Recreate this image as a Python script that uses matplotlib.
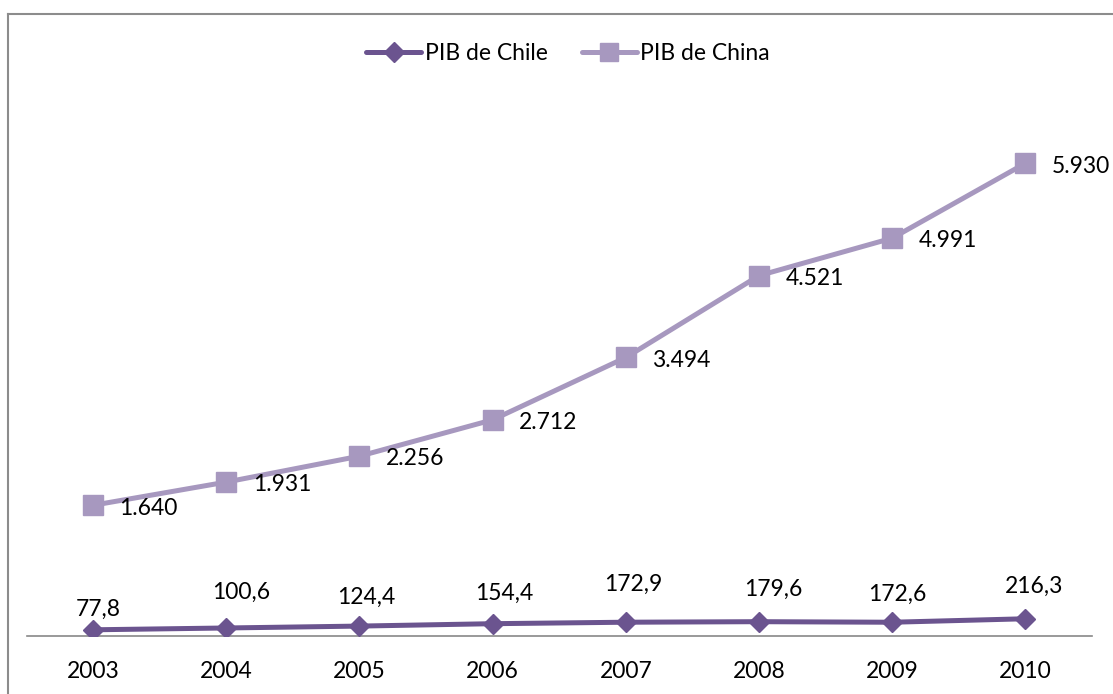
import numpy as np
import matplotlib.pyplot as plt
from matplotlib.lines import Line2D

plt.rcParams['font.family'] = ['Lato', 'DejaVu Sans']

# PIB por año (miles de millones US$)
years = ['2003', '2004', '2005', '2006', '2007', '2008', '2009', '2010']
pib_chile = [77.8, 100.6, 124.4, 154.4, 172.9, 179.6, 172.6, 216.3]
pib_china = [1640, 1931, 2256, 2712, 3494, 4521, 4991, 5930]

# etiquetas de Chile movidas a mano (puntos, respecto al marcador)
chile_off = [(4, 15), (11, 26), (5, 21), (8, 22), (5, 27), (10, 23), (4, 20), (6, 23)]

c_chile = '#6b548f'
c_china = '#a798bf'

fig = plt.figure(figsize=(11.13, 6.94), dpi=100)
W, H = 1113, 694
ax = fig.add_axes([26.5 / W, (H - 636) / H, (1092 - 26.5) / W, (636 - 78) / H])

x = np.arange(len(years))
ax.plot(x, pib_china, color=c_china, lw=3.6, marker='s', ms=15,
        solid_capstyle='round', label='PIB de China', zorder=3)
ax.plot(x, pib_chile, color=c_chile, lw=3.6, marker='D', ms=10.5,
        solid_capstyle='round', label='PIB de Chile', zorder=3)

def fmt_china(v):
    return f'{v:,.0f}'.replace(',', '.')

def fmt_chile(v):
    return f'{v:.1f}'.replace('.', ',')

for i, v in enumerate(pib_china):
    ax.annotate(fmt_china(v), (x[i], v), xytext=(19, -2), textcoords='offset points',
                ha='left', va='center', fontsize=16.5, color='black')
for i, v in enumerate(pib_chile):
    dx, dy = chile_off[i]
    ax.annotate(fmt_chile(v), (x[i], v), xytext=(dx, dy), textcoords='offset points',
                ha='center', va='center', fontsize=16.5, color='black')

ax.set_xlim(-0.5, len(years) - 0.5)
ax.set_ylim(0, 7000)
ax.set_xticks(x)
ax.set_xticklabels(years, fontsize=16.5)
ax.tick_params(axis='x', length=0, pad=18)
ax.set_yticks([])
for s in ['top', 'right', 'left']:
    ax.spines[s].set_visible(False)
ax.spines['bottom'].set_color('#888888')
ax.spines['bottom'].set_linewidth(1.2)

handles = [Line2D([], [], color=c_chile, lw=3.6, marker='D', ms=10.5, solid_capstyle='round'),
           Line2D([], [], color=c_china, lw=3.6, marker='s', ms=13, solid_capstyle='round')]
fig.legend(handles, ['PIB de Chile', 'PIB de China'], loc='center',
           bbox_to_anchor=(568 / W, 1 - 54 / H), ncol=2, frameon=False,
           fontsize=16.5, handlelength=2.4, handletextpad=0.15, columnspacing=1.5)

# marco del gráfico
fig.add_artist(Line2D([7.5 / W, 7.5 / W], [0, 1 - 13.5 / H], color='#8c8c8c', lw=1.5))
fig.add_artist(Line2D([7.5 / W, 1], [1 - 13.5 / H, 1 - 13.5 / H], color='#8c8c8c', lw=1.5))

fig.savefig('out.png', dpi=100)
